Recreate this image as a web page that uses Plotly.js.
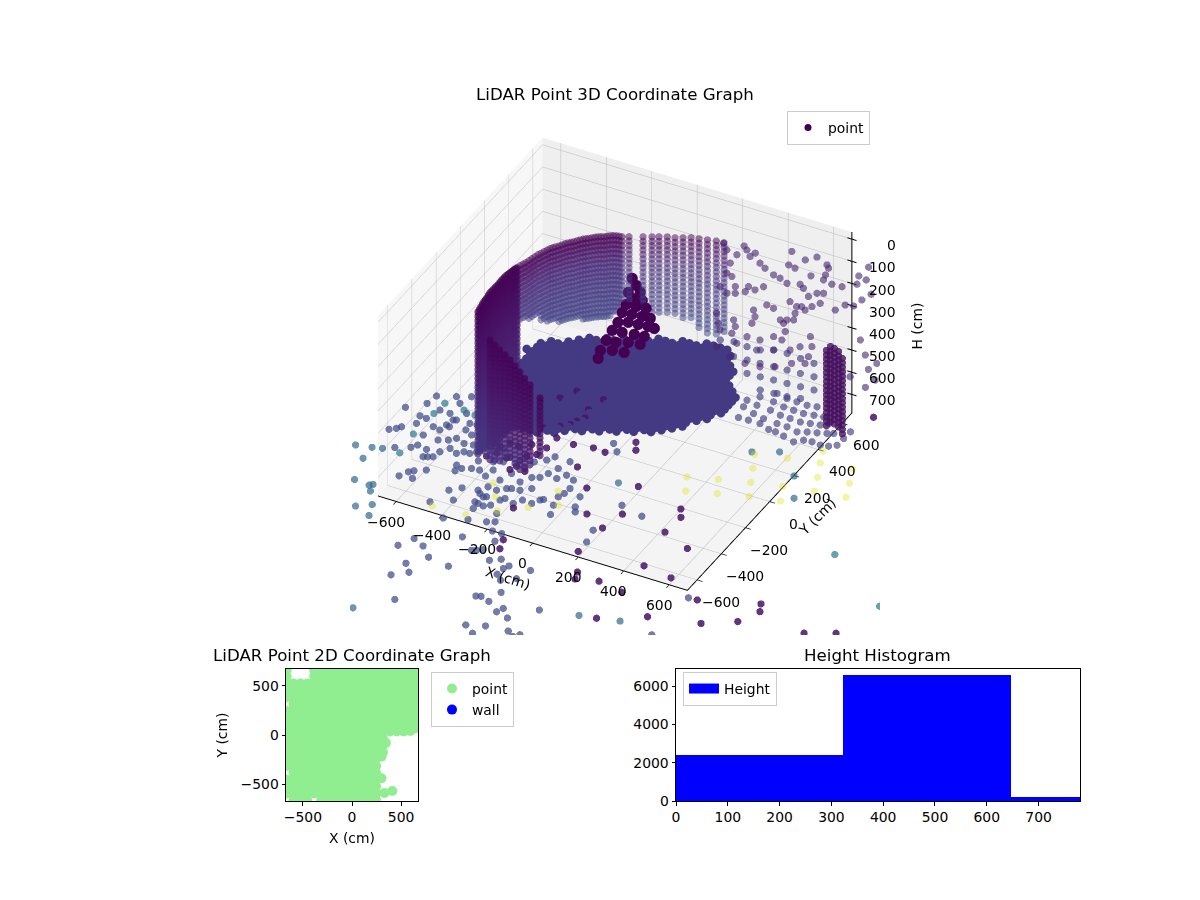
<!DOCTYPE html>
<html><head><meta charset="utf-8">
<script src="https://cdn.plot.ly/plotly-3.0.1.min.js"></script>
<style>body{margin:0;background:#fff}</style></head>
<body><div id="chart" style="width:1200px;height:900px"></div>
<script>
// wall scan: columns (x,y) with the last ring each reaches, rings are shared
var wallRings = [0,20,40,60,80,100,120,140,160,180,200,220,240,260,280,300,320,340,360,380,400,420,440,460,480,500,520,540,560,580,600,620,640,660,680,700];
var ringColor = [0,.005,.01,.015,.02,.025,.03,.035,.04,.045,.05,.055,.06,.065,.07,.075,.08,.085,.09,.095,.1,.105,.11,.115,.12,.125,.13,.135,.14,.145,.15,.15,.15,.15,.15,.15];
var innerColor = [0,.01,.03,.05,.07,.09,.11,.12,.13,.14,.15,.16,.17,.17,.18,.18,.19,.19,.2,.2,.2,.2,.2,.2,.2,.2,.2,.2,.2,.2,.2,.2,.2,.2,.2,.2];
// near side of the wall
var wallX = [-371,-377,-383,-385,-391,-390,-389,-391,-390,-385,-382,-377,
  -374,-380,-384,-388,-390,-390,-390,-390,-388,-384,-380,
  -241,-176,-109,-37,39,115,-209,-142,-73,0];
var wallY = [-436,-400,-365,-335,-300,-269,-237,-200,-169,-143,-118,-101,
  -418,-382,-350,-317,-285,-253,-218,-185,-156,-130,-110,
  -581,-623,-664,-718,-777,-837,-602,-643,-691,-748];
var wallBottom = [650,650,675,675,675,700,700,700,700,700,700,700,
  650,675,675,675,700,700,700,700,700,700,700,
  550,500,450,450,375,275,520,470,450,400];
// far side of the wall
var innerX = [-374,-363,-355,-347,-336,-325,-311,-296,-282,-265,-250,-234,-216,-198,-178,-160,-140,
  -368,-359,-351,-341,-330,-318,-303,-289,-273,-257,-242,-225,-207,-188,-169,-150,-128,
  -116,-92,-44,-13,11,39,69,96,124,154,186,220,253];
var innerY = [-83,-54,-19,16,45,74,95,118,141,158,181,198,215,232,243,260,271,
  -68,-36,-2,30,60,85,106,130,150,170,190,206,224,238,252,266,274,
  276,289,314,330,343,358,366,381,396,404,413,423,426];
var innerBottom = [250,250,275,275,300,325,325,350,350,350,350,375,375,375,375,375,350,
  250,275,275,300,325,325,350,350,350,350,375,375,375,375,375,350,325,
  325,325,325,350,350,350,350,375,375,400,425,425,400];
// dense post on the right side
var postX = [734,735,755,779,814];
var postY = [367,398,393,383,348];
var postRings = [300,320,340,360,380,400,420,440,460,480,500,520,540,560,580,600,620,640];
// floor mass at H 700
var floorCols = [-580,-550,-520,-490,-460,-430,-400,-370,-340,-310,-280,-250,-220,-190,-160,-130,-100,-70,-40,-10,20,50,80,110,140,170,200,230,260,290];
var floorRows = [-160,-120,-90,-60,-30,0,30,60,90,120,150,180,210,240,270,300,330,360,390,420,450,480,510,540,570,600,630,660,690,720];
var floorFirst = [-430,-440,-460,-480,-490,-500,-510,-520,-520,-520,-530,-540,-550,-560,-560,-560,-570,-580,-570,-560,-520,-480,-450,-420,-360,-300,-230,-160,-80,0];
var floorLast = [-390,-280,-220,-170,-110,-60,0,60,110,160,180,200,220,240,260,280,290,300,300,300,290,280,250,220,210,200,180,160,140,120];
// dark pillar, H 300
var pillarX = [-161,-125,-130,-89,-98,-56,-99,-58,-18,-87,-47,-6,28,-70,-35,6,46,74,-64,-24,24,65,-53,-13,29,76,-41,0,47,-23];
var pillarY = [444,409,353,375,324,330,277,283,290,222,229,235,238,155,174,180,186,185,97,103,113,119,26,32,54,64,-45,-23,-14,-97];
// scattered returns on the upper right, H 100
var upperX = [261,283,315,322,370,404,454,487,526,442,474,506,515,546,605,621,585,641,683,632,575,599,749,769,726,755,787,850,836,795,827,777,684,661,642,704,686,674,634,595,650,651,666,643,620,560,526,457,438,405,410,360,316,288,264,268,182,214,308,352,381,497,523,533,460,487,496,381,418,445,642,674,689,773,776,813,833,650,614,559,545,635,692,749,843,797,751,699,637,565,487,1079,1023,958,1040,1126,1089,1136];
var upperY = [576,557,524,553,502,481,457,449,431,630,544,536,604,642,614,597,519,518,507,551,449,431,606,553,511,676,596,519,468,407,417,359,438,426,391,372,337,304,309,327,266,318,224,212,200,257,265,368,333,341,305,317,371,382,510,448,554,521,289,262,277,210,173,128,115,78,32,123,67,30,186,139,83,76,155,98,32,88,43,39,-19,-23,8,38,-15,-39,-89,-117,-124,-111,-76,65,145,226,-12,-48,116,13];
// floor ridges toward the post, H 700
var ridgeX = [55,107,168,224,270,327,389,450,98,154,211,266,323,380,436,493,202,253,309,365,422,479,535,351,408,464,516,364,406,457,505,536,578,630,659,693,732,764,790,791,793,347,403,453,515,560,610,645,682,718,741,338,388,450,500,544,590,629,668,692,372,434,485,530,574,615,654,420,470,514,560,599];
var ridgeY = [766,781,775,779,804,808,802,797,686,691,695,699,704,708,712,717,601,615,619,624,628,633,638,540,545,549,563,336,338,339,320,318,307,291,319,325,320,329,350,402,455,409,387,375,370,369,357,375,388,402,414,455,443,438,426,424,422,431,440,464,499,494,482,480,478,487,495,550,538,536,534,543];
// front scatter, H 700
var lowerX = [-810,-733,-703,-748,-739,-796,-774,-761,-719,-664,-648,-604,-592,-577,-594,-613,-598,-559,-536,-494,-531,-495,-606,-595,-538,-508,-471,-442,-457,-468,-443,-425,-392,-372,-340,-295,-336,-301,-390,-451,-595,-579,-539,-614,-560,-438,-423,-317,-310,-255,-236,-249,-206,-195,-158,-140,-92,-73,18,56,-205,-188,-180,-154,-126,-110,-65,-42,-3,73,12,8,-2,8,-54,-119,-114,-135,-179,-191,-297,-248,-272,-256,-230,-160,-207,-360,-398,-351,-426,-329,-239,-168,-139,-119,-79,-78,-72,-44,28,88,104,224,239,-397,-363,-309,-254,-313,-274,-327,-158,-236,-203,-129,-112,-91,-36,1,49,35,38,137,65,115,106,31,50,92,164,152,209,293,88,159,138,253,305,285,765,243,346,757,
  -683,-638,-636,-581,-617,-669,-653,-620,-661,-721,-489,-526,-551,-558,-356,-389,-274,-234,-154,-259,-281,-255];
var lowerY = [-210,-234,-238,-147,-86,-371,-352,-333,-469,-439,-413,-423,-473,-465,-346,-240,-246,-327,-302,-319,-235,-255,-199,-193,-189,-185,-217,-252,-312,-369,-368,-346,-310,-279,-283,-315,-375,-357,-397,-462,-590,-574,-547,-631,-622,-499,-473,-475,-425,-473,-412,-317,-358,-301,-268,-233,-297,-235,-46,-90,-511,-502,-447,-399,-384,-345,-360,-322,-339,-426,-395,-435,-466,-525,-519,-465,-551,-588,-573,-592,-573,-596,-648,-691,-657,-678,-639,-588,-626,-677,-730,-802,-766,-746,-731,-790,-789,-847,-554,-509,-586,-495,-525,-602,-684,-1048,-978,-1006,-1063,-1141,-1189,-1237,-1081,-1377,-880,-944,-935,-919,-971,-943,-969,-1040,-995,-957,-1070,-1031,-1141,-1209,-1201,-1217,-1233,-1265,-1283,-1177,-1400,-1370,-1438,-1359,-1360,-1383,-832,-401,-430,-1120,
  -164,-165,-87,-135,-26,-53,-275,-283,-343,-286,-392,-374,-413,-455,-450,-455,-534,-539,-497,-603,-589,-652];
// outer ring on the left, H 700
var outerX = [-861,-793,-797,-758,-755,-687,-676,-664,-667,-615,-591,-353,446,605,160,519,614,740,811];
var outerY = [-526,-592,-510,-497,-734,-741,-730,-774,-891,-851,-923,-1503,-1137,-1096,-273,155,206,88,-45];
var tealX = [-693,-688,-698,-685,-547,-600,1129,1447];
var tealY = [-195,-114,-355,-492,-130,-120,-307,-534];
// darker purple returns, H 690
var darkX = [-24,24,75,-113,-47,158,256,247,-30,310,324,413,522,526,98,123,247,280,464,491,483,612,518,649,809,1040,1061,1017,897,692,1281,1391,833,
  -418,-410,-355,-332,-292,-232,-203,-235,-247,-190,-370,-345,-295,-252,-190,-187,-109,-172,-154,-184,-265,-213,-362,-303,-267,-149,-169,-30];
var darkY = [-266,-128,-375,-628,-836,-530,-585,-769,-896,-894,-940,-909,-1135,-934,-12,-60,-272,-466,-329,-379,-496,-553,-735,-758,-842,-750,-798,-898,-976,-1033,-846,-788,570,
  -304,-248,-283,-245,-250,-295,-266,-373,-405,-388,-367,-329,-341,-215,-208,-130,-139,6,41,-25,-94,-54,59,115,186,184,97,-123];
// pale yellow returns, H 700
var yellowX = [-269,-405,-263,-219,-166,-71,-20,25,376,491,417,533,536,574,612,651,661,735,773,788,825,859,918,953,985,761];
var yellowY = [-501,-750,-740,-581,-661,-584,-432,-516,-113,-70,-200,-157,146,59,-29,-117,182,4,-86,214,123,34,237,145,56,289];
// z axis line and tick marks at the right corner
var axisLineH = [783,-32];
var hTicks = [0,100,200,300,400,500,600,700];
var xyTicks = [-600,-400,-200,0,200,400,600];
// 2D panel, rows of the footprint
var greenY = [665,595,525,455,385,315,245,175,105,35,-35,-105,-175,-245,-315,-385,-455,-525,-595,-665];
var greenRows = [
 [-665,-385,-315,-245,-175,-105,-35,35,105,175,245,315,385,455,525,595,665],
 [-665,-385,-315,-245,-175,-105,-35,35,105,175,245,315,385,455,525,595,665],
 [-665,-595,-525,-455,-385,-315,-245,-175,-105,-35,35,105,175,245,315,385,455,525,595,665],
 [-665,-595,-525,-455,-385,-315,-245,-175,-105,-35,35,105,175,245,315,385,455,525,595,665],
 [-665,-595,-525,-455,-385,-315,-245,-175,-105,-35,35,105,175,245,315,385,455,525,595,665],
 [-595,-525,-455,-385,-315,-245,-175,-105,-35,35,105,175,245,315,385,455,525,595,665],
 [-665,-595,-525,-455,-385,-315,-245,-175,-105,-35,35,105,175,245,315,385,455,525,595,665],
 [-665,-595,-525,-455,-385,-315,-245,-175,-105,-35,35,105,175,245,315,385,455,525,595,665],
 [-665,-595,-525,-455,-385,-315,-245,-175,-105,-35,35,105,175,245,315,385,455,525,595,665],
 [-665,-595,-525,-455,-385,-315,-245,-175,-105,-35,35,105,175,245,315,385,455,525],
 [-665,-595,-525,-455,-385,-315,-245,-175,-105,-35,35,105,175,245,315],
 [-665,-595,-525,-455,-385,-315,-245,-175,-105,-35,35,105,175,245,315],
 [-665,-595,-525,-455,-385,-315,-245,-175,-105,-35,35,105,175,245,315],
 [-665,-595,-525,-455,-385,-315,-245,-175,-105,-35,35,105,175,245],
 [-665,-595,-525,-455,-385,-315,-245,-175,-105,-35,35,105,175,245],
 [-595,-525,-455,-385,-315,-245,-175,-105,-35,35,105,175,245],
 [-665,-595,-525,-455,-385,-315,-245,-175,-105,-35,35,105,175,245],
 [-665,-595,-525,-455,-385,-315,-245,-175,-105,-35,35,105,175,245],
 [-665,-595,-525,-455,-385,-315,-245,-175,-105,-35,35,105,175,245],
 [-595,-525,-455,-315,-245,-175,-105,-35,35,105,175,245]
];
var greenExtraX = [595,650,330,410,345,300,300];
var greenExtraY = [40,70,-590,-570,-80,-220,-440];
var wallLegendX = [null], wallLegendY = [null];
// histogram
var binLeft = [0,323,646], binWidth = [323,323,323], binCount = [2417,6590,226];

var FONT = 'DejaVu Sans, sans-serif';
var W = 1200, H = 900, K = 4, A = 1.293;
function px(a,b){return [a/W,b/W]}
function py(a,b){return [1-b/H,1-a/H]}

// expand the shared rings and columns into point lists
function columns(xs,ys,bottoms,colors){
  var out={x:[],y:[],h:[],c:[]};
  xs.forEach(function(x,i){
    wallRings.forEach(function(h,j){
      if(h<=bottoms[i]){out.x.push(x);out.y.push(ys[i]);out.h.push(h);out.c.push(colors[j]);}
    });
  });
  return out;
}
var nearWall = columns(wallX,wallY,wallBottom,ringColor);
var farWall = columns(innerX,innerY,innerBottom,innerColor);
var ptx=[],pty=[],pth=[];
postX.forEach(function(x,i){postRings.forEach(function(h){ptx.push(x);pty.push(postY[i]);pth.push(h);});});
var fx=[],fy=[];
floorRows.forEach(function(y,i){floorCols.forEach(function(x){
  if(x>=floorFirst[i]&&x<=floorLast[i]){fx.push(x);fy.push(y);}
});});
var gx=[],gy=[];
greenY.forEach(function(y,i){greenRows[i].forEach(function(x){gx.push(x);gy.push(y);});});
gx=gx.concat(greenExtraX);gy=gy.concat(greenExtraY);
function same(arr,v){return arr.map(function(){return v;});}

function cloud(x,y,h,color,size,op){
  return {type:'scatter3d',scene:'scene2',mode:'markers',x:x,y:y,z:h,showlegend:false,
    hoverinfo:'skip',marker:{size:size,color:color,opacity:op,line:{width:0}}};
}
function wallTrace(w,op){
  return {type:'scatter3d',scene:'scene2',mode:'markers',x:w.x,y:w.y,z:w.h,showlegend:false,hoverinfo:'skip',
   marker:{size:4.2,color:w.c,cmin:0,cmax:1,colorscale:'Viridis',opacity:op,line:{width:0}}};
}
var zx=[680,680],zy=[680,680];
hTicks.forEach(function(t){zx.push(null,660,700);zy.push(null,680,680);});
var zh=axisLineH.slice();
hTicks.forEach(function(t){zh.push(null,t,t);});

var data = [
 {type:'scatter3d',scene:'scene',mode:'markers',x:[0],y:[0],z:[375],marker:{size:1,color:'rgba(0,0,0,0)'},showlegend:false,hoverinfo:'skip'},
 wallTrace(farWall,0.5),
 cloud(fx,fy,same(fx,700),'#443a83',5,1),
 cloud(ridgeX,ridgeY,same(ridgeX,700),'#433e85',4.2,0.65),
 cloud(lowerX,lowerY,same(lowerX,700),'#3e4a89',4.2,0.72),
 cloud(outerX,outerY,same(outerX,700),'#31688e',4.2,0.7),
 cloud(tealX,tealY,same(tealX,700),'#2a788e',4.2,0.7),
 cloud(yellowX,yellowY,same(yellowX,700),'#dde318',4.2,0.38),
 cloud(darkX,darkY,same(darkX,690),'#471365',4.2,0.85),
 cloud(upperX,upperY,same(upperX,100),'#46256f',4.2,0.6),
 wallTrace(nearWall,0.75),
 cloud(ptx,pty,pth,'#46115f',4.2,0.8),
 cloud(pillarX,pillarY,same(pillarX,300),'#440154',6.5,1),
 {type:'scatter3d',scene:'scene2',mode:'markers',x:[null],y:[null],z:[null],name:'point',marker:{size:7,color:'#440154'},legend:'legend',showlegend:true,hoverinfo:'skip'},
 {type:'scatter3d',scene:'scene2',mode:'lines',x:zx,y:zy,z:zh,line:{color:'#000',width:2},showlegend:false,hoverinfo:'skip'},
 {type:'scatter',mode:'markers',x:gx,y:gy,name:'point',xaxis:'x',yaxis:'y',marker:{size:10,color:'#90ee90'},legend:'legend2',cliponaxis:true},
 {type:'scatter',mode:'markers',x:wallLegendX,y:wallLegendY,name:'wall',xaxis:'x',yaxis:'y',marker:{size:10,color:'#0000ff'},legend:'legend2'},
 {type:'bar',x:binLeft,y:binCount,width:binWidth,offset:0,marker:{color:'#0000ff',line:{width:0}},name:'Height',xaxis:'x2',yaxis:'y2',showlegend:false},
 {type:'scatter',mode:'lines',x:[null],y:[null],name:'Height',xaxis:'x2',yaxis:'y2',line:{color:'#0000ff',width:10},legend:'legend3',showlegend:true}
];

var eye = {x:.3846*1.547, y:-.7232*1.547, z:.5736*1.547};
var cam = {eye:eye, center:{x:0,y:0,z:0}, up:{x:0,y:0,z:1}, projection:{type:'orthographic'}};
function ax3(rng,bg,vals,line){return {title:{text:''},range:rng,tickvals:vals,showticklabels:false,
 showbackground:true,backgroundcolor:bg,gridcolor:'#c4c4c4',gridwidth:1.3,zeroline:false,showspikes:false,showline:line,linecolor:'#000',linewidth:2,ticks:line?'outside':'',ticklen:6,tickcolor:'#000',tickwidth:1.5};}
function hide(r){return {visible:false,range:r,showbackground:false,showgrid:false,zeroline:false,showspikes:false};}
function label(x,y,z,text,sx,sy,anchor,angle){
  return {x:x,y:y,z:z,text:text,showarrow:false,xshift:sx,yshift:sy,xanchor:anchor||'center',yanchor:'middle',textangle:angle||0,font:{family:FONT,size:13.9,color:'#000'}};
}
var labels = [];
xyTicks.forEach(function(t){
  labels.push(label(t,-680,783,String(t).replace('-','\u2212'),-10,-20));
  labels.push(label(680,t,783,String(t).replace('-','\u2212'),24,-22));
});
hTicks.forEach(function(t){ labels.push(label(680,680,t,String(t),46,-6,'right')); });
labels.push(label(0,-680,783,'X (cm)',-25,-35,'center',18));
labels.push(label(680,0,783,'Y (cm)',47,-15,'center',-45));
labels.push(label(680,680,340,'H (cm)',65,-11,'center',-90));

function frame(dom,rng,vals,anchor,title){
  var a = {domain:dom,range:rng,anchor:anchor,showline:true,mirror:true,linecolor:'#000',linewidth:1,ticks:'outside',ticklen:3.5,tickwidth:0.8,tickcolor:'#000',tickvals:vals,showgrid:false,zeroline:false,tickfont:{family:FONT,size:13.9,color:'#000'}};
  if(title){a.title={text:title,font:{family:FONT,size:13.9,color:'#000'},standoff:9};}
  return a;
}
function legendAt(x,y){return {x:x/W,y:1-y/H,xanchor:'left',yanchor:'top',bordercolor:'#cccccc',borderwidth:1,bgcolor:'rgba(255,255,255,0.8)',font:{family:FONT,size:13.9,color:'#000'},itemsizing:'trace'};}
function head(text,x,y){return {text:text,xref:'paper',yref:'paper',x:x/W,y:1-y/H,showarrow:false,xanchor:'center',yanchor:'middle',font:{family:FONT,size:16.67,color:'#000'}};}

var layout = {width:W,height:H,margin:{l:0,r:0,t:0,b:0},paper_bgcolor:'#fff',plot_bgcolor:'#fff',font:{family:FONT,size:13.9,color:'#000'},bargap:0,
 scene:{domain:{x:px(350,880),y:py(93,635)},camera:cam,aspectmode:'manual',aspectratio:{x:A,y:A,z:.63*A},
   xaxis:ax3([-680,680],'#f7f7f7',xyTicks,true),yaxis:ax3([-680,680],'#efefef',xyTicks,true),zaxis:ax3([783,-32],'#f4f4f4',hTicks,false)},
 scene2:{domain:{x:px(350,880),y:py(93,635)},camera:cam,aspectmode:'manual',aspectratio:{x:A*K,y:A*K,z:.63*A*K},bgcolor:'rgba(0,0,0,0)',
   xaxis:hide([-680*K,680*K]),yaxis:hide([-680*K,680*K]),zaxis:hide([375.5+407.5*K,375.5-407.5*K]),annotations:labels},
 xaxis:frame(px(286,418),[-672,672],[-500,0,500],'y','X (cm)'),
 yaxis:frame(py(669,801),[-672,672],[-500,0,500],'x','Y (cm)'),
 xaxis2:frame(px(676,1080),[0,780],[0,100,200,300,400,500,600,700],'y2'),
 yaxis2:frame(py(669,801),[0,6887],[0,2000,4000,6000],'x2'),
 legend:legendAt(787,111),
 legend2:legendAt(431,672),
 legend3:legendAt(683,672),
 annotations:[head('LiDAR Point 3D Coordinate Graph',615,95),head('LiDAR Point 2D Coordinate Graph',352,655),head('Height Histogram',877,655)]
};
Plotly.newPlot('chart',data,layout,{displayModeBar:false});
</script></body></html>
